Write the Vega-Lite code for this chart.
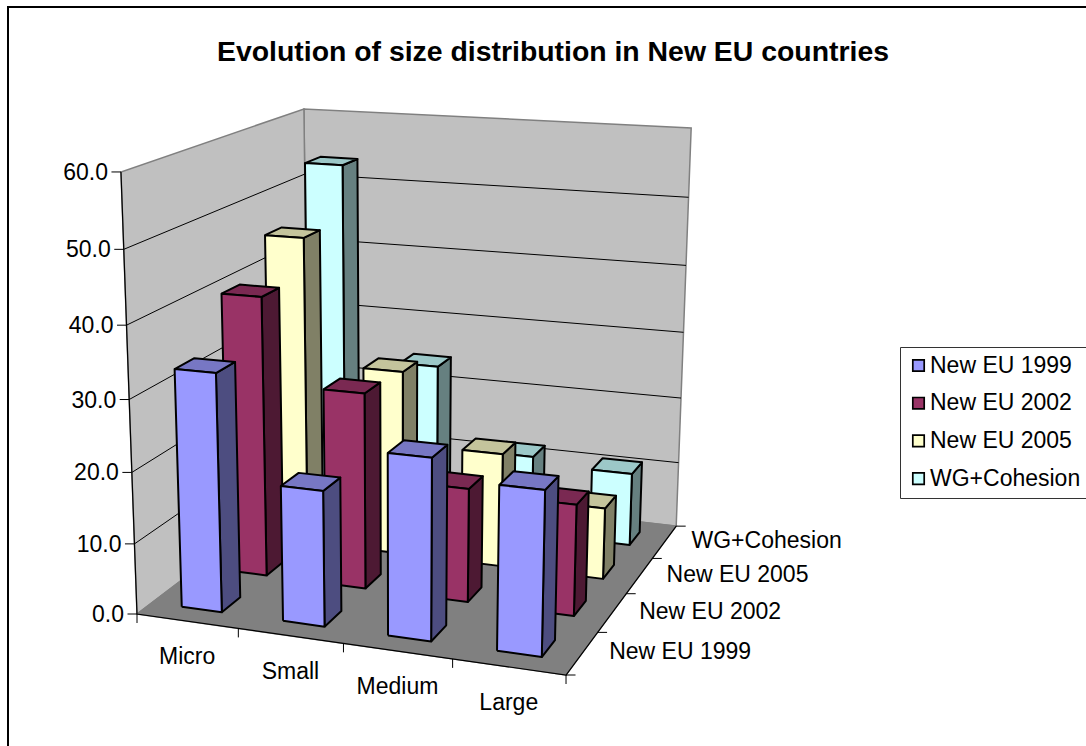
{
"$schema":"https://vega.github.io/schema/vega-lite/v6.json",
"width":1090,"height":750,
"autosize":"none",
"padding":{"left":8,"top":7,"right":0,"bottom":0},
"background":"white",
"view":{"stroke":"black","strokeWidth":2,"fill":"white"},
"title":{"text":"Evolution of size distribution in New EU countries","font":"Liberation Sans","fontWeight":"bold","fontSize":28.4,"color":"black","anchor":"middle","frame":"group","baseline":"alphabetic","offset":0,"dy":82},
"datasets":{
"bars":[
{"category":"Micro","series":"WG+Cohesion","value":53.6},
{"category":"Small","series":"WG+Cohesion","value":24.3},
{"category":"Medium","series":"WG+Cohesion","value":11.9},
{"category":"Large","series":"WG+Cohesion","value":10.9},
{"category":"Micro","series":"New EU 2005","value":45.6},
{"category":"Small","series":"New EU 2005","value":27.3},
{"category":"Medium","series":"New EU 2005","value":16.7},
{"category":"Large","series":"New EU 2005","value":10.4},
{"category":"Micro","series":"New EU 2002","value":40.3},
{"category":"Small","series":"New EU 2002","value":28.1},
{"category":"Medium","series":"New EU 2002","value":16.2},
{"category":"Large","series":"New EU 2002","value":15.7},
{"category":"Micro","series":"New EU 1999","value":33.4},
{"category":"Small","series":"New EU 1999","value":18.9},
{"category":"Medium","series":"New EU 1999","value":25.0},
{"category":"Large","series":"New EU 1999","value":22.4}
],
"planes":[{"plane":"back"},{"plane":"left"},{"plane":"floor"}],
"grid":[{"tick":10},{"tick":20},{"tick":30},{"tick":40},{"tick":50}],
"spine":[{"step":0,"pu":0,"pv":0,"pw":60},{"step":1,"pu":0,"pv":0,"pw":0},{"step":2,"pu":4,"pv":0,"pw":0},{"step":3,"pu":4,"pv":4,"pw":0}],
"ticks":[
{"axis":"value","at":0},{"axis":"value","at":10},{"axis":"value","at":20},{"axis":"value","at":30},{"axis":"value","at":40},{"axis":"value","at":50},{"axis":"value","at":60},
{"axis":"category","at":0},{"axis":"category","at":1},{"axis":"category","at":2},{"axis":"category","at":3},{"axis":"category","at":4},
{"axis":"series","at":0},{"axis":"series","at":1},{"axis":"series","at":2},{"axis":"series","at":3},{"axis":"series","at":4}
],
"labels":[
{"axis":"value","at":0,"label":"0.0"},{"axis":"value","at":10,"label":"10.0"},{"axis":"value","at":20,"label":"20.0"},{"axis":"value","at":30,"label":"30.0"},{"axis":"value","at":40,"label":"40.0"},{"axis":"value","at":50,"label":"50.0"},{"axis":"value","at":60,"label":"60.0"},
{"axis":"category","at":0.5,"label":"Micro"},{"axis":"category","at":1.5,"label":"Small"},{"axis":"category","at":2.5,"label":"Medium"},{"axis":"category","at":3.5,"label":"Large"},
{"axis":"series","at":0.5,"label":"New EU 1999"},{"axis":"series","at":1.5,"label":"New EU 2002"},{"axis":"series","at":2.5,"label":"New EU 2005"},{"axis":"series","at":3.5,"label":"WG+Cohesion"}
]
},
"encoding":{
"x":{"field":"px","type":"quantitative","axis":null,"scale":{"domain":[8,1098],"range":[0,1090],"nice":false,"zero":false}},
"y":{"field":"py","type":"quantitative","axis":null,"scale":{"domain":[7,757],"range":[0,750],"nice":false,"zero":false}}
},
"layer":[
{"data":{"name":"planes"},
"transform":[
{"calculate":"[0,1,2,3,4]","as":"corners"},{"flatten":["corners"],"as":["corner"]},
{"calculate":"datum.plane=='left'?0:[0,4,4,0,0][datum.corner]","as":"pu"},
{"calculate":"datum.plane=='back'?4:datum.plane=='left'?[0,4,4,0,0][datum.corner]:[0,0,4,4,0][datum.corner]","as":"pv"},
{"calculate":"datum.plane=='floor'?0:[0,0,60,60,0][datum.corner]","as":"pw"},
{"calculate":"(137+97.025*datum.pu+57.45*datum.pv-0.3833*datum.pw)/(1-0.018075*datum.pu+0.047175*datum.pv-0.000958*datum.pw)","as":"px"},
{"calculate":"(614+3.05*datum.pu-9.7*datum.pv-7.532*datum.pw)/(1-0.018075*datum.pu+0.047175*datum.pv-0.000958*datum.pw)","as":"py"}
],
"mark":{"type":"line","stroke":"#808080","strokeWidth":1.5},
"encoding":{
"order":{"field":"corner","type":"quantitative"},
"fill":{"field":"plane","type":"nominal","legend":null,"scale":{"domain":["back","left","floor"],"range":["#C0C0C0","#C0C0C0","#808080"]}}
}},
{"data":{"name":"grid"},
"transform":[
{"calculate":"(137+57.45*4-0.3833*datum.tick)/(1+0.047175*4-0.000958*datum.tick)","as":"px"},
{"calculate":"(614-9.7*4-7.532*datum.tick)/(1+0.047175*4-0.000958*datum.tick)","as":"py"},
{"calculate":"(137+97.025*4+57.45*4-0.3833*datum.tick)/(1-0.018075*4+0.047175*4-0.000958*datum.tick)","as":"px2"},
{"calculate":"(614+3.05*4-9.7*4-7.532*datum.tick)/(1-0.018075*4+0.047175*4-0.000958*datum.tick)","as":"py2"}
],
"mark":{"type":"rule","stroke":"black","strokeWidth":1},
"encoding":{"x2":{"field":"px2"},"y2":{"field":"py2"}}},
{"data":{"name":"grid"},
"transform":[
{"calculate":"(137+57.45*4-0.3833*datum.tick)/(1+0.047175*4-0.000958*datum.tick)","as":"px"},
{"calculate":"(614-9.7*4-7.532*datum.tick)/(1+0.047175*4-0.000958*datum.tick)","as":"py"},
{"calculate":"(137-0.3833*datum.tick)/(1-0.000958*datum.tick)","as":"px2"},
{"calculate":"(614-7.532*datum.tick)/(1-0.000958*datum.tick)","as":"py2"}
],
"mark":{"type":"rule","stroke":"black","strokeWidth":1},
"encoding":{"x2":{"field":"px2"},"y2":{"field":"py2"}}},
{"data":{"name":"spine"},
"transform":[
{"calculate":"(137+97.025*datum.pu+57.45*datum.pv-0.3833*datum.pw)/(1-0.018075*datum.pu+0.047175*datum.pv-0.000958*datum.pw)","as":"px"},
{"calculate":"(614+3.05*datum.pu-9.7*datum.pv-7.532*datum.pw)/(1-0.018075*datum.pu+0.047175*datum.pv-0.000958*datum.pw)","as":"py"}
],
"mark":{"type":"line","stroke":"black","strokeWidth":1.2},
"encoding":{"order":{"field":"step","type":"quantitative"}}},
{"data":{"name":"ticks"},
"transform":[
{"calculate":"datum.axis=='category'?datum.at:datum.axis=='series'?4:0","as":"pu"},
{"calculate":"datum.axis=='series'?datum.at:0","as":"pv"},
{"calculate":"datum.axis=='value'?datum.at:0","as":"pw"},
{"calculate":"(137+97.025*datum.pu+57.45*datum.pv-0.3833*datum.pw)/(1-0.018075*datum.pu+0.047175*datum.pv-0.000958*datum.pw)","as":"px"},
{"calculate":"(614+3.05*datum.pu-9.7*datum.pv-7.532*datum.pw)/(1-0.018075*datum.pu+0.047175*datum.pv-0.000958*datum.pw)","as":"py"},
{"calculate":"datum.px+(datum.axis=='value'?-9.5:datum.axis=='series'?9.5:0)","as":"px2"},
{"calculate":"datum.py+(datum.axis=='category'?9:0)","as":"py2"}
],
"mark":{"type":"rule","stroke":"black","strokeWidth":1},
"encoding":{"x2":{"field":"px2"},"y2":{"field":"py2"}}},
{"data":{"name":"bars"},
"transform":[
{"calculate":"indexof(['Micro','Small','Medium','Large'],datum.category)","as":"ci"},
{"calculate":"indexof(['New EU 1999','New EU 2002','New EU 2005','WG+Cohesion'],datum.series)","as":"si"},
{"calculate":"['side','top','front']","as":"faces"},{"flatten":["faces"],"as":["face"]},
{"calculate":"[0,1,2,3,4]","as":"corners"},{"flatten":["corners"],"as":["corner"]},
{"calculate":"datum.ci+0.3+0.4*(datum.face=='side'?1:[0,1,1,0,0][datum.corner])","as":"pu"},
{"calculate":"datum.si+0.3+0.4*(datum.face=='side'?[0,1,1,0,0][datum.corner]:datum.face=='top'?[0,0,1,1,0][datum.corner]:0)","as":"pv"},
{"calculate":"datum.value*(datum.face=='top'?1:[0,0,1,1,0][datum.corner])","as":"pw"},
{"calculate":"(137+97.025*datum.pu+57.45*datum.pv-0.3833*datum.pw)/(1-0.018075*datum.pu+0.047175*datum.pv-0.000958*datum.pw)","as":"px"},
{"calculate":"(614+3.05*datum.pu-9.7*datum.pv-7.532*datum.pw)/(1-0.018075*datum.pu+0.047175*datum.pv-0.000958*datum.pw)","as":"py"},
{"calculate":"datum.face=='front'?datum.series:datum.series+' '+datum.face","as":"key"}
],
"mark":{"type":"line","stroke":"black","strokeWidth":2,"strokeJoin":"round"},
"encoding":{
"order":{"field":"corner","type":"quantitative"},
"detail":{"field":"category"},
"fill":{"field":"key","type":"nominal",
"scale":{"domain":["New EU 1999","New EU 2002","New EU 2005","WG+Cohesion","New EU 1999 side","New EU 2002 side","New EU 2005 side","WG+Cohesion side","New EU 1999 top","New EU 2002 top","New EU 2005 top","WG+Cohesion top"],
"range":["#9999FF","#993366","#FFFFCC","#CCFFFF","#4D4D80","#4D1933","#808066","#668080","#7777C4","#7A2952","#C4C49C","#9CC8C8"]},
"legend":{"values":["New EU 1999","New EU 2002","New EU 2005","WG+Cohesion"],"title":null,"orient":"none","legendX":892,"legendY":340,"fillColor":"white","strokeColor":"#333333","padding":7,"labelFont":"Liberation Sans","labelFontSize":23,"labelColor":"black","labelLimit":300,"labelOffset":0,"symbolType":"square","symbolSize":130,"symbolStrokeColor":"black","symbolStrokeWidth":1.7,"rowPadding":13.7,"symbolOpacity":1}}
}},
{"data":{"name":"labels"},
"transform":[{"filter":"datum.axis=='value'"},
{"calculate":"(137-0.3833*datum.at)/(1-0.000958*datum.at)-13","as":"px"},
{"calculate":"(614-7.532*datum.at)/(1-0.000958*datum.at)+1","as":"py"}],
"mark":{"type":"text","align":"right","baseline":"middle","font":"Liberation Sans","fontSize":23,"color":"black"},
"encoding":{"text":{"field":"label"}}},
{"data":{"name":"labels"},
"transform":[{"filter":"datum.axis=='category'"},
{"calculate":"(137+97.025*datum.at)/(1-0.018075*datum.at)","as":"px"},
{"calculate":"(614+3.05*datum.at)/(1-0.018075*datum.at)+36","as":"py"}],
"mark":{"type":"text","align":"center","baseline":"middle","font":"Liberation Sans","fontSize":23,"color":"black"},
"encoding":{"text":{"field":"label"}}},
{"data":{"name":"labels"},
"transform":[{"filter":"datum.axis=='series'"},
{"calculate":"(137+97.025*4+57.45*datum.at)/(1-0.018075*4+0.047175*datum.at)+27","as":"px"},
{"calculate":"(614+3.05*4-9.7*datum.at)/(1-0.018075*4+0.047175*datum.at)-1","as":"py"}],
"mark":{"type":"text","align":"left","baseline":"middle","font":"Liberation Sans","fontSize":23,"color":"black"},
"encoding":{"text":{"field":"label"}}}
],
"resolve":{"scale":{"fill":"independent"}}
}
